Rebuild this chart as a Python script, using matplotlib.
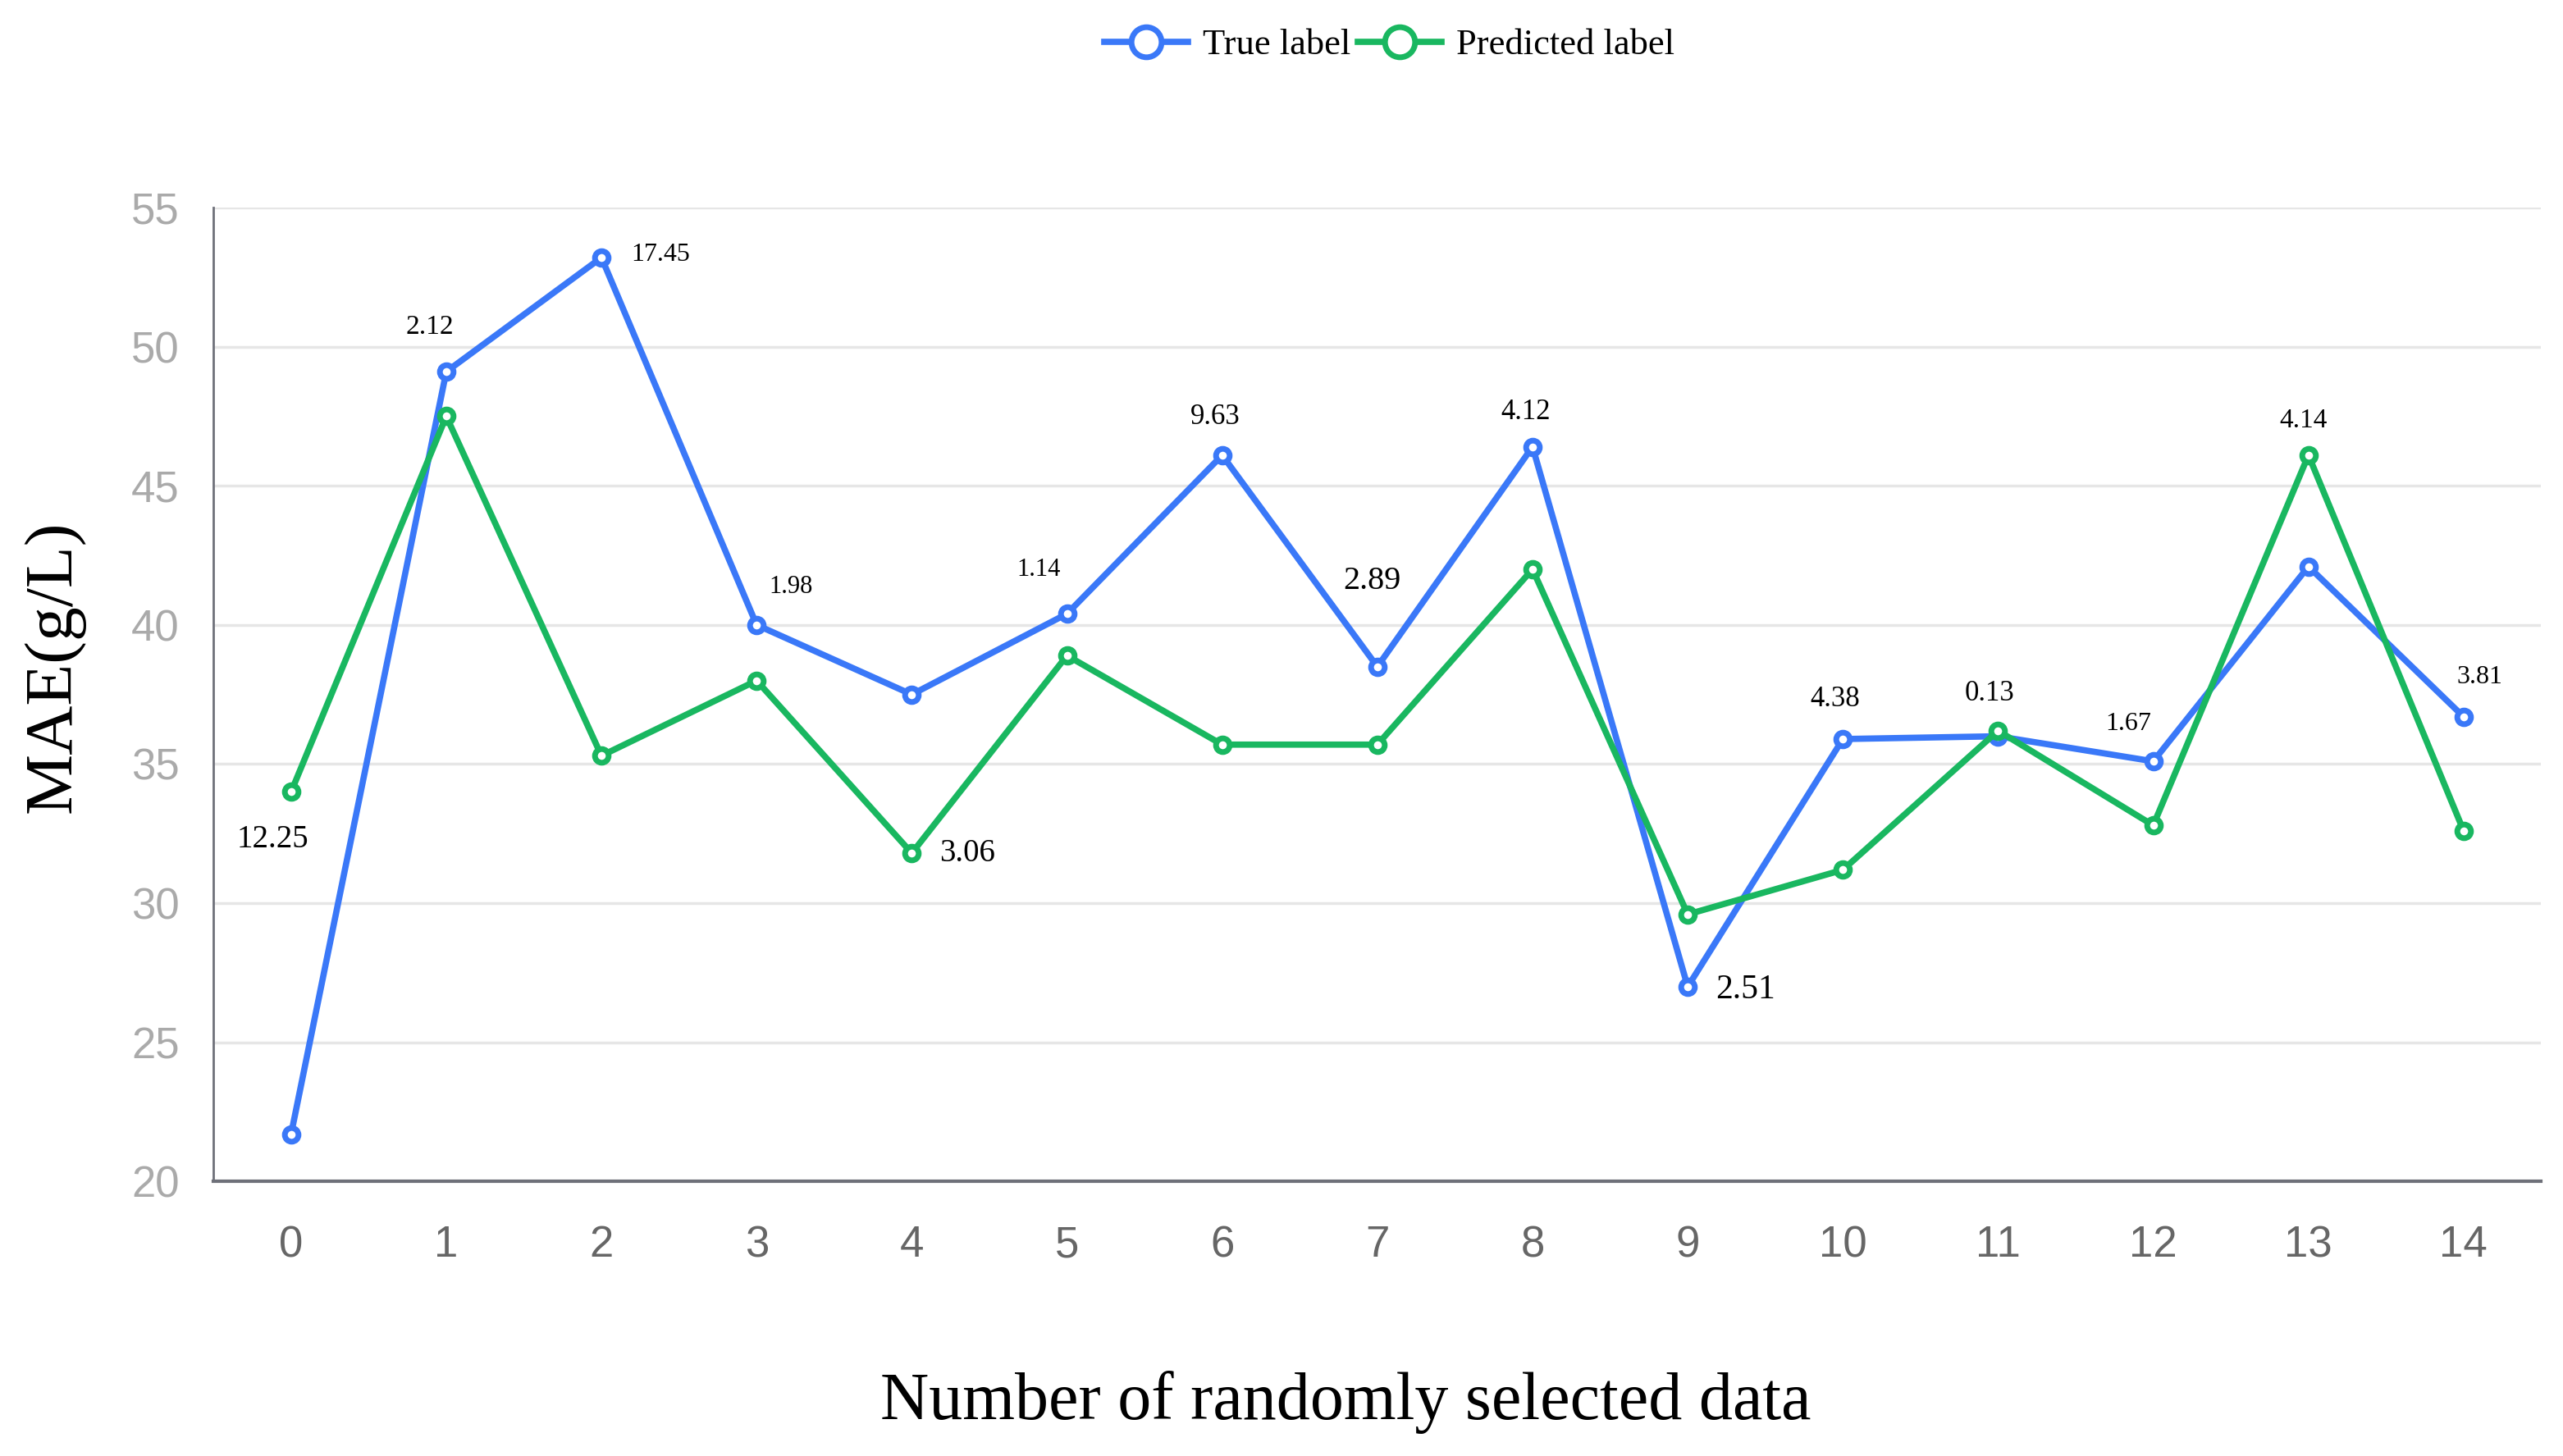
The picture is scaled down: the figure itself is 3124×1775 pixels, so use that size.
import matplotlib.pyplot as plt

# data
x = list(range(15))
true_label = [21.7, 49.1, 53.2, 40.0, 37.5, 40.4, 46.1, 38.5, 46.4, 27.0, 35.9, 36.0, 35.1, 42.1, 36.7]
pred_label = [34.0, 47.5, 35.3, 38.0, 31.8, 38.9, 35.7, 35.7, 42.0, 29.6, 31.2, 36.2, 32.8, 46.1, 32.6]
diff_text = ['12.25', '2.12', '17.45', '1.98', '3.06', '1.14', '9.63', '2.89',
             '4.12', '2.51', '4.38', '0.13', '1.67', '4.14', '3.81']
# which curve each difference label hangs off
diff_anchor = ['p', 't', 't', 't', 'p', 't', 't', 't', 't', 't', 't', 't', 't', 'p', 't']

# label placement (pixel offsets from the point) and size
lbl_off = [(-22, -58), (-20, 54), (72, 4), (42, 46), (68, 0), (-34, 54), (-8, 46), (-6, 104),
           (-8, 42), (70, -4), (-10, 48), (-10, 52), (-30, 46), (-6, 42), (20, 48)]
lbl_size = [28, 24, 23, 22, 28, 22, 25, 29, 25, 30, 25, 25, 23, 24, 23]

blue = '#3a78f8'
green = '#19b760'
serif = 'Liberation Serif'

fig = plt.figure(figsize=(31.24, 17.75), dpi=100)
ax = fig.add_axes([0.0833, 0.1885, 0.9082, 0.669])

l1, = ax.plot(x, true_label, color=blue, lw=5.5, marker='o', ms=12,
              mfc='white', mec=blue, mew=5, label='True label', zorder=3)
l2, = ax.plot(x, pred_label, color=green, lw=5.5, marker='o', ms=12,
              mfc='white', mec=green, mew=5, label='Predicted label', zorder=3)

for i, t in enumerate(diff_text):
    yv = true_label[i] if diff_anchor[i] == 't' else pred_label[i]
    ax.annotate(t, (x[i], yv), xytext=lbl_off[i], textcoords='offset pixels',
                ha='center', va='center', fontsize=lbl_size[i], family=serif, color='black')

ax.set_xlim(-0.5, 14.5)
ax.set_ylim(20, 55)
ax.set_xticks(x)
ax.set_yticks(range(20, 56, 5))
ax.grid(axis='y', color='#e6e6e6', lw=2.5)
ax.set_axisbelow(True)
ax.tick_params(axis='both', length=0)
ax.tick_params(axis='x', labelsize=38, labelcolor='#666666', pad=38)
ax.tick_params(axis='y', labelsize=38, labelcolor='#aaaaaa', pad=30)
for lab in ax.get_xticklabels() + ax.get_yticklabels():
    lab.set_family('Liberation Sans')

for s in ['top', 'right']:
    ax.spines[s].set_visible(False)
ax.spines['left'].set_color('#6e7079')
ax.spines['left'].set_linewidth(2)
ax.spines['bottom'].set_color('#6e7079')
ax.spines['bottom'].set_linewidth(3)

fig.text(0.021, 0.542, 'MAE(g/L)', rotation=90, ha='center', va='center',
         fontsize=60, family=serif)
fig.text(0.525, 0.037, 'Number of randomly selected data', ha='center', va='center',
         fontsize=59, family=serif)

fig.legend(handles=[l1, l2], loc='center', bbox_to_anchor=(0.542, 0.969), ncol=2,
           frameon=False, prop={'family': serif, 'size': 32}, markerscale=2.2,
           handlelength=2.3, handletextpad=0.4, columnspacing=0.2)

fig.savefig('out.png', dpi=100)
